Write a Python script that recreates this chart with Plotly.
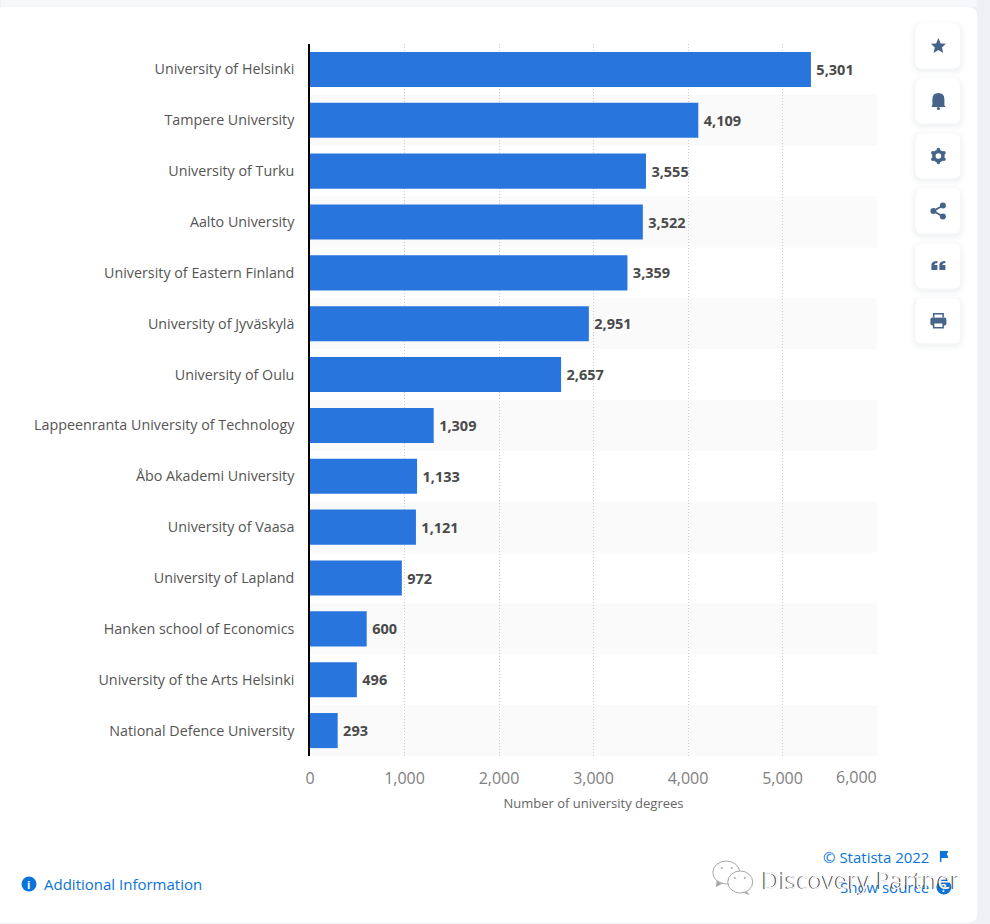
import plotly.graph_objects as go

universities = ["University of Helsinki", "Tampere University", "University of Turku", "Aalto University",
                "University of Eastern Finland", "University of Jyväskylä", "University of Oulu",
                "Lappeenranta University of Technology", "Åbo Akademi University", "University of Vaasa",
                "University of Lapland", "Hanken school of Economics", "University of the Arts Helsinki",
                "National Defence University"]
degrees = [5301, 4109, 3555, 3522, 3359, 2951, 2657, 1309, 1133, 1121, 972, 600, 496, 293]
x_ticks = [0, 1000, 2000, 3000, 4000, 5000, 6000]

W, H = 990, 924
L, R, T, B = 309.5, 877.5, 44, 756
FONT = "Open Sans"
BLUE = "#0b73d9"
ICON = "#46648a"
TICK_GRAY = "#808080"


# pixel position on the page -> paper coordinates
def px(x):
    return (x - L) / (R - L)


def py(y):
    return (B - y) / (B - T)


def page_path(pts):
    out = []
    for p in pts:
        coords = p[1:]
        s = p[0]
        for i in range(0, len(coords), 2):
            s += f" {px(coords[i]):.5f},{py(coords[i + 1]):.5f}"
        out.append(s)
    return " ".join(out)


def round_rect(x0, y0, x1, y1, r):
    pts = [("M", x0 + r, y0), ("L", x1 - r, y0), ("Q", x1, y0, x1, y0 + r), ("L", x1, y1 - r),
           ("Q", x1, y1, x1 - r, y1), ("L", x0 + r, y1), ("Q", x0, y1, x0, y1 - r), ("L", x0, y0 + r),
           ("Q", x0, y0, x0 + r, y0)]
    return page_path(pts) + " Z"


def poly(xy):
    return page_path([("M", *xy[0])] + [("L", *q) for q in xy[1:]]) + " Z"


def fill_shape(path, color, layer="above", opacity=1):
    return dict(type="path", xref="paper", yref="paper", path=path, fillcolor=color,
                line=dict(width=0), layer=layer, opacity=opacity)


def circle(cx, cy, r, color, line=None, layer="above"):
    return dict(type="circle", xref="paper", yref="paper", x0=px(cx - r), x1=px(cx + r),
                y0=py(cy + r), y1=py(cy - r), fillcolor=color, layer=layer,
                line=dict(width=1 if line else 0, color=line or "rgba(0,0,0,0)"))


shapes = []
# page strip on top and the card
shapes.append(fill_shape(poly([(0, 0), (978, 0), (978, 7), (0, 7)]), "#f6f7fa", "below"))
shapes.append(fill_shape(round_rect(-12, 7, 978, 923, 10), "white", "below"))

# alternating row bands
for i in range(len(universities)):
    if i % 2 == 1:
        shapes.append(dict(type="rect", xref="paper", yref="y", x0=0, x1=1, y0=i - 0.5, y1=i + 0.5,
                           fillcolor="#fafafa", line=dict(width=0), layer="below"))

# side buttons
button_y = [46, 101, 156, 211, 266, 321]
for cy in button_y:
    for grow, alpha in [(6, 0.012), (4, 0.02), (2, 0.03)]:
        shapes.append(fill_shape(round_rect(916 - grow, cy - 22 - grow + 2, 961 + grow, cy + 22 + grow + 2, 8 + grow),
                                 "#3c5078", "below", alpha))
    shapes.append(fill_shape(round_rect(916, cy - 22.5, 961, cy + 22.5, 7), "white", "below"))

cx = 939
# star
cy = 46
shapes.append(fill_shape(poly([(cx, cy - 8), (cx + 2.3, cy - 2.6), (cx + 7.5, cy - 2.2), (cx + 3.6, cy + 1.4),
                               (cx + 4.8, cy + 7), (cx, cy + 4), (cx - 4.8, cy + 7), (cx - 3.6, cy + 1.4),
                               (cx - 7.5, cy - 2.2), (cx - 2.3, cy - 2.6)]), ICON))
# bell
cy = 101
shapes.append(fill_shape(page_path([("M", cx - 6, cy + 4), ("L", cx - 6, cy - 2), ("Q", cx - 6, cy - 8, cx, cy - 8),
                                    ("Q", cx + 6, cy - 8, cx + 6, cy - 2), ("L", cx + 6, cy + 4),
                                    ("L", cx + 7, cy + 6), ("L", cx - 7, cy + 6)]) + " Z", ICON))
shapes.append(circle(cx, cy + 7.5, 1.6, ICON))
# gear
cy = 156
for dx, dy in [(0, -6.5), (0, 6.5), (5.6, -3.2), (-5.6, -3.2), (5.6, 3.2), (-5.6, 3.2)]:
    shapes.append(circle(cx + dx, cy + dy, 1.8, ICON))
shapes.append(circle(cx, cy, 6.3, ICON))
shapes.append(circle(cx, cy, 2.8, "white"))
# share
cy = 211
for a, b in [((cx - 5, cy), (cx + 4.5, cy - 5.5)), ((cx - 5, cy), (cx + 4.5, cy + 5.5))]:
    shapes.append(dict(type="line", xref="paper", yref="paper", x0=px(a[0]), y0=py(a[1]), x1=px(b[0]), y1=py(b[1]),
                       line=dict(color=ICON, width=2), layer="above"))
shapes.append(circle(cx - 5, cy, 3, ICON))
shapes.append(circle(cx + 4.5, cy - 5.5, 3, ICON))
shapes.append(circle(cx + 4.5, cy + 5.5, 3, ICON))
# quote
cy = 266
for off in (-7, 1):
    shapes.append(fill_shape(page_path([("M", cx + off, cy - 1), ("Q", cx + off, cy - 5, cx + off + 6, cy - 5),
                                        ("L", cx + off + 6, cy - 3), ("Q", cx + off + 3, cy - 3, cx + off + 3, cy - 1),
                                        ("L", cx + off + 6, cy - 1), ("L", cx + off + 6, cy + 4),
                                        ("L", cx + off, cy + 4)]) + " Z", ICON))
# print
cy = 321
shapes.append(fill_shape(round_rect(cx - 8, cy - 3.5, cx + 8, cy + 4.5, 2), ICON))
shapes.append(fill_shape(poly([(cx - 5.5, cy - 8), (cx + 5.5, cy - 8), (cx + 5.5, cy - 3.5), (cx - 5.5, cy - 3.5)]), ICON))
shapes.append(fill_shape(poly([(cx - 4, cy - 6.5), (cx + 4, cy - 6.5), (cx + 4, cy - 3.5), (cx - 4, cy - 3.5)]), "white"))
shapes.append(fill_shape(poly([(cx - 5.5, cy + 1), (cx + 5.5, cy + 1), (cx + 5.5, cy + 7.5), (cx - 5.5, cy + 7.5)]), ICON))
shapes.append(fill_shape(poly([(cx - 4, cy + 2.5), (cx + 4, cy + 2.5), (cx + 4, cy + 6), (cx - 4, cy + 6)]), "white"))

# info circle, flag, show source circle
shapes.append(circle(28, 884, 7.5, BLUE))
shapes.append(fill_shape(poly([(940.5, 851), (949, 851), (947.5, 854), (949, 858), (942, 858), (942, 862), (940.5, 862)]), BLUE))
shapes.append(circle(944.5, 887, 7.5, BLUE))

# watermark bubbles
WM = "#a8a8a8"
shapes.append(fill_shape(poly([(717, 880), (716, 887), (724, 883)]), WM))
shapes.append(dict(type="circle", xref="paper", yref="paper", x0=px(713), x1=px(740), y0=py(884), y1=py(861),
                   fillcolor="rgba(255,255,255,0.7)", line=dict(color=WM, width=1), layer="above"))
shapes.append(fill_shape(poly([(745, 889), (750, 895), (741, 892)]), WM))
shapes.append(dict(type="circle", xref="paper", yref="paper", x0=px(728), x1=px(753), y0=py(893), y1=py(871),
                   fillcolor="rgba(255,255,255,0.9)", line=dict(color=WM, width=1), layer="above"))
for ex, ey in [(722, 868), (732, 868), (735, 878), (745, 878)]:
    shapes.append(circle(ex, ey, 1, WM))


def note(text, x, y, size, color, anchor="left", family=FONT, weight=None):
    return dict(text=text, xref="paper", yref="paper", x=px(x), y=py(y), xanchor=anchor, yanchor="middle",
                showarrow=False, font=dict(family=family, size=size, color=color, weight=weight))


# the last axis label sits left of its gridline so it stays inside the plot
last_tick = dict(text=f"{x_ticks[-1]:,}", xref="x", yref="paper", x=x_ticks[-1], y=py(777), xanchor="right", xshift=2,
                 yanchor="middle", showarrow=False, font=dict(family=FONT, size=16, color=TICK_GRAY))

annotations = [
    last_tick,
    note("i", 28, 884, 11, "white", "center", weight=700),
    note("Additional Information", 41, 884, 15, BLUE),
    note("© Statista 2022", 932, 857, 15, BLUE, "right"),
    note("Show source", 932, 887, 15, BLUE, "right"),
    note("?", 944.5, 887, 11, "white", "center", weight=700),
    note("Discovery Partner", 759, 879.5, 24, "#333333"),
    note("Discovery Partner", 760.2, 879, 24, "#f6f6f6"),
]

fig = go.Figure(go.Bar(
    x=degrees, y=universities, orientation="h",
    marker=dict(color="#2975de", line=dict(width=0)),
    text=degrees, texttemplate="\u2009<b>%{x:,}</b>", textposition="outside", cliponaxis=False,
    textfont=dict(family=FONT, size=14.5, color="#4a4a4a"),
))

fig.update_layout(
    width=W, height=H,
    margin=dict(l=L, r=W - R, t=T, b=H - B, pad=0, autoexpand=False),
    paper_bgcolor="#eef0f5", plot_bgcolor="rgba(0,0,0,0)",
    showlegend=False, bargap=0.31,
    font=dict(family=FONT),
    shapes=shapes, annotations=annotations,
    xaxis=dict(range=[0, 6000], tickmode="array", tickvals=x_ticks,
               ticktext=[f"{v:,}" for v in x_ticks[:-1]] + [""], showgrid=True,
               gridcolor="#cfcfcf", griddash="1px,2px", gridwidth=1, zeroline=False,
               ticks="outside", ticklen=8, tickcolor="rgba(0,0,0,0)",
               tickfont=dict(family=FONT, size=16, color=TICK_GRAY),
               title=dict(text="Number of university degrees", standoff=10,
                          font=dict(family=FONT, size=13, color="#666666"))),
    yaxis=dict(autorange="reversed", showline=True, linecolor="#000000", linewidth=1.5, showgrid=False,
               ticks="outside", ticklen=11, tickcolor="rgba(0,0,0,0)",
               tickfont=dict(family=FONT, size=14.3, color="#555555")),
)

fig.write_html("out.html", config=dict(displayModeBar=False), post_script="document.body.style.margin='0';")
